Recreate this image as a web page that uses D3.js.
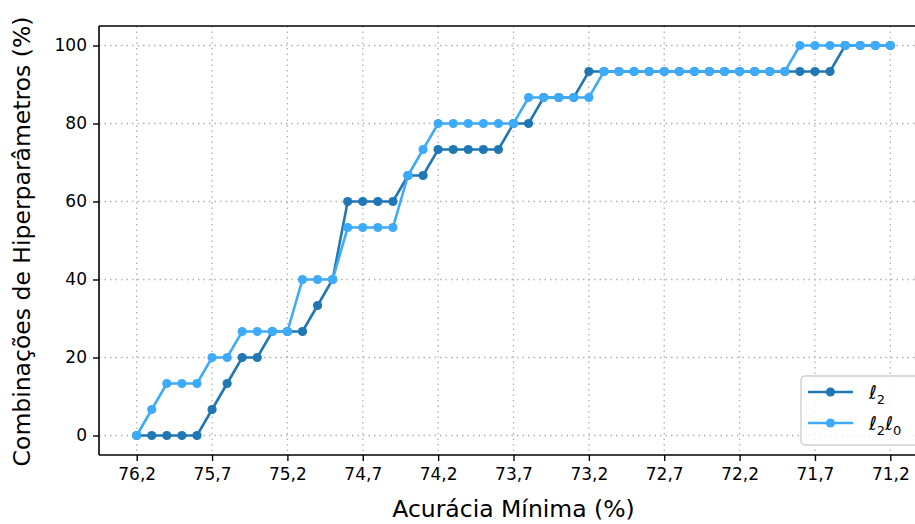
<!DOCTYPE html>
<html>
<head>
<meta charset="utf-8">
<script src="https://cdn.jsdelivr.net/npm/d3@7"></script>
<style>
  body { margin: 0; background: #fff; }
  text { font-family: "DejaVu Sans", sans-serif; fill: #000; }
</style>
</head>
<body>
<div id="chart"></div>
<script>
// Minimum accuracy thresholds (76.2 down to 71.2, step 0.1)
const accuracy = d3.range(51).map(i => +(76.2 - i * 0.1).toFixed(1));

// % of hyperparameter combinations reaching each threshold
const l2 = [
  0, 0, 0, 0, 0, 6.67, 13.33, 20, 20, 26.67,
  26.67, 26.67, 33.33, 40, 60, 60, 60, 60, 66.67, 66.67,
  73.33, 73.33, 73.33, 73.33, 73.33, 80, 80, 86.67, 86.67, 86.67,
  93.33, 93.33, 93.33, 93.33, 93.33, 93.33, 93.33, 93.33, 93.33, 93.33,
  93.33, 93.33, 93.33, 93.33, 93.33, 93.33, 93.33, 100, 100, 100, 100
];
const l2l0 = [
  0, 6.67, 13.33, 13.33, 13.33, 20, 20, 26.67, 26.67, 26.67,
  26.67, 40, 40, 40, 53.33, 53.33, 53.33, 53.33, 66.67, 73.33,
  80, 80, 80, 80, 80, 80, 86.67, 86.67, 86.67, 86.67,
  86.67, 93.33, 93.33, 93.33, 93.33, 93.33, 93.33, 93.33, 93.33, 93.33,
  93.33, 93.33, 93.33, 93.33, 100, 100, 100, 100, 100, 100, 100
];

const xTicks = [76.2, 75.7, 75.2, 74.7, 74.2, 73.7, 73.2, 72.7, 72.2, 71.7, 71.2];
const yTicks = [0, 20, 40, 60, 80, 100];

const series = [
  { name: "l2", values: l2, color: "#1f77b4" },
  { name: "l2l0", values: l2l0, color: "#3daafa" }
];

const width = 915, height = 524;
const pLeft = 99, pTop = 26, pRight = 928, pBottom = 455;

const svg = d3.select("#chart").append("svg")
  .attr("width", width).attr("height", height);

const x = d3.scaleLinear().domain([76.45, 70.95]).range([pLeft, pRight]);
const y = d3.scaleLinear().domain([-5, 105]).range([pBottom, pTop]);

// grid
const grid = svg.append("g");
grid.selectAll(".gx").data(xTicks).enter().append("line")
  .attr("x1", d => x(d)).attr("x2", d => x(d))
  .attr("y1", pTop).attr("y2", pBottom)
  .attr("stroke", "#b0b0b0").attr("stroke-width", 1.3)
  .attr("stroke-dasharray", "1.5,4");
grid.selectAll(".gy").data(yTicks).enter().append("line")
  .attr("x1", pLeft).attr("x2", pRight)
  .attr("y1", d => y(d)).attr("y2", d => y(d))
  .attr("stroke", "#b0b0b0").attr("stroke-width", 1.3)
  .attr("stroke-dasharray", "1.5,4");

// lines + markers
const line = d3.line().x((d, i) => x(accuracy[i])).y(d => y(d));
series.forEach(s => {
  svg.append("path")
    .datum(s.values)
    .attr("d", line)
    .attr("fill", "none")
    .attr("stroke", s.color)
    .attr("stroke-width", 2.6);
  svg.append("g").selectAll("circle")
    .data(s.values).enter().append("circle")
    .attr("cx", (d, i) => x(accuracy[i]))
    .attr("cy", d => y(d))
    .attr("r", 4.6)
    .attr("fill", s.color);
});

// axes
const xAxis = svg.append("g")
  .attr("transform", `translate(0,${pBottom})`)
  .call(d3.axisBottom(x).tickValues(xTicks)
    .tickFormat(d => d3.format(".1f")(d).replace(".", ","))
    .tickSize(6).tickPadding(7));
const yAxis = svg.append("g")
  .attr("transform", `translate(${pLeft},0)`)
  .call(d3.axisLeft(y).tickValues(yTicks).tickSize(6).tickPadding(6));

[xAxis, yAxis].forEach(a => {
  a.select(".domain").attr("stroke", "#000").attr("stroke-width", 1.6);
  a.selectAll(".tick line").attr("stroke", "#000").attr("stroke-width", 1.4);
  a.selectAll(".tick text").style("font-size", "17px").attr("font-family", "DejaVu Sans");
});
xAxis.select(".domain").attr("d", `M${pLeft},0H${pRight}`);
yAxis.select(".domain").attr("d", `M0,${pBottom}V${pTop}`);

// top spine
svg.append("line").attr("x1", pLeft).attr("x2", pRight).attr("y1", pTop).attr("y2", pTop)
  .attr("stroke", "#000").attr("stroke-width", 1.6);

// axis labels
svg.append("text")
  .attr("x", x(73.7)).attr("y", 517)
  .attr("text-anchor", "middle")
  .style("font-size", "23.5px")
  .text("Acurácia Mínima (%)");
svg.append("text")
  .attr("transform", `translate(30,${y(50) + 1}) rotate(-90)`)
  .attr("text-anchor", "middle")
  .style("font-size", "23.5px")
  .text("Combinações de Hiperparâmetros (%)");

// legend
const lg = svg.append("g").attr("transform", "translate(801,376)");
lg.append("rect")
  .attr("width", 130).attr("height", 69).attr("rx", 4)
  .attr("fill", "#fff").attr("fill-opacity", 0.8)
  .attr("stroke", "#d0d0d0").attr("stroke-width", 1.4);
const labels = [["ℓ", "2"], ["ℓ", "2", "ℓ", "0"]];
series.forEach((s, i) => {
  const yy = 16 + i * 31;
  lg.append("line").attr("x1", 7).attr("x2", 52).attr("y1", yy).attr("y2", yy)
    .attr("stroke", s.color).attr("stroke-width", 2.6);
  lg.append("circle").attr("cx", 29.5).attr("cy", yy).attr("r", 4.6).attr("fill", s.color);
  const t = lg.append("text").attr("x", 68).attr("y", yy + 7).style("font-size", "19px");
  labels[i].forEach((p, k) => {
    if (k % 2 === 0) {
      t.append("tspan").attr("font-style", "italic").attr("dy", k === 0 ? 0 : -5).text(p);
    } else {
      t.append("tspan").attr("dy", 5).style("font-size", "13px").text(p);
    }
  });
});
</script>
</body>
</html>
